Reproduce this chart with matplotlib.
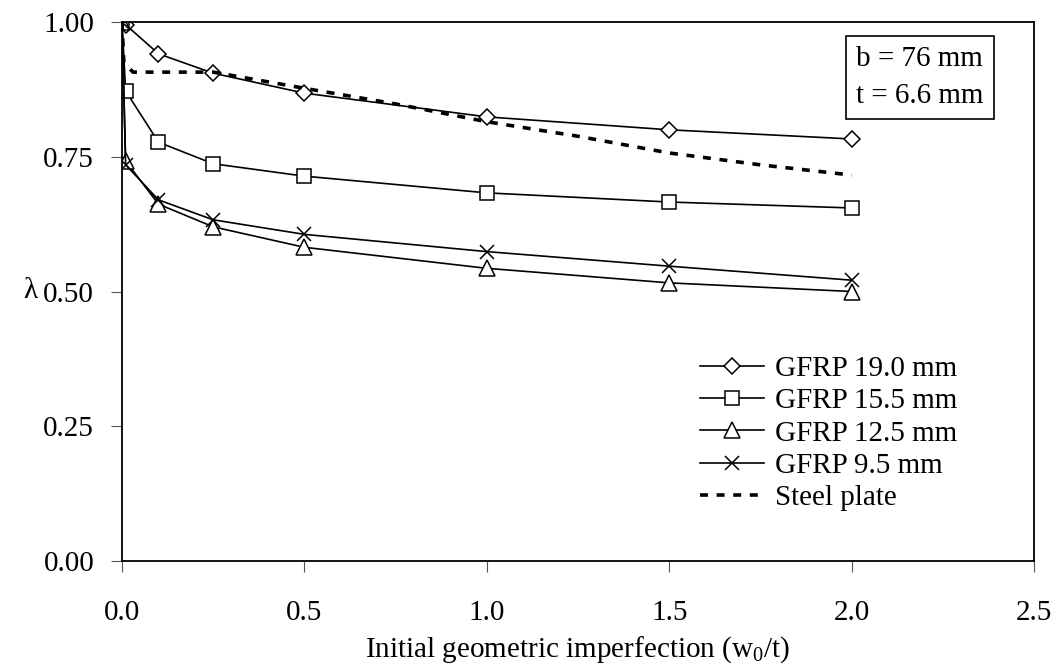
import numpy as np
import matplotlib
matplotlib.use("Agg")
import matplotlib.pyplot as plt

# ---------------------------------------------------------------
# data
x_gfrp = [0.0, 0.01, 0.1, 0.25, 0.5, 1.0, 1.5, 2.0]
lam_190 = [1.0, 0.995, 0.941, 0.905, 0.868, 0.824, 0.800, 0.783]
lam_155 = [1.0, 0.872, 0.777, 0.737, 0.714, 0.683, 0.666, 0.655]
lam_125 = [1.0, 0.742, 0.662, 0.620, 0.582, 0.543, 0.516, 0.500]
lam_95 = [1.0, 0.735, 0.670, 0.633, 0.606, 0.574, 0.547, 0.521]

x_steel = [0.0, 0.005, 0.03, 0.1, 0.25, 0.5, 0.75, 1.0, 1.25, 1.5, 1.75, 2.0]
lam_steel = [1.0, 0.925, 0.907, 0.907, 0.907, 0.877, 0.848, 0.815, 0.788, 0.757, 0.735, 0.716]

labels = ["GFRP 19.0 mm", "GFRP 15.5 mm", "GFRP 12.5 mm", "GFRP 9.5 mm", "Steel plate"]
xticks = [0.0, 0.5, 1.0, 1.5, 2.0, 2.5]
yticks = [0.0, 0.25, 0.5, 0.75, 1.0]

# ---------------------------------------------------------------
plt.rcParams['font.family'] = ['Liberation Serif', 'DejaVu Serif']
plt.rcParams['mathtext.fontset'] = 'custom'
plt.rcParams['mathtext.rm'] = 'Liberation Serif'
plt.rcParams['mathtext.it'] = 'Liberation Serif:italic'

fs = 21

fig = plt.figure(figsize=(10.57, 6.69), dpi=100)
ax = fig.add_axes([122/1057, 1 - 561/669, 912/1057, 539/669])

lw = 1.2
mk = dict(color='black', lw=lw, mfc='white', mec='black', mew=1.1)
ax.plot(x_gfrp, lam_190, marker='D', ms=8.5, label=labels[0], **mk)
ax.plot(x_gfrp, lam_155, marker='s', ms=10, label=labels[1], **mk)
ax.plot(x_gfrp, lam_125, marker='^', ms=11, label=labels[2], **mk)
ax.plot(x_gfrp, lam_95, marker='x', ms=10, label=labels[3], **mk)
ax.plot(x_steel, lam_steel, color='black', lw=2.6, dashes=(2.2, 2.4),
        label=labels[4])

ax.set_xlim(0, 2.5)
ax.set_ylim(0, 1.0)
ax.set_xticks(xticks)
ax.set_yticks(yticks)
ax.set_xticklabels(["%.1f" % v for v in xticks])
ax.set_yticklabels(["%.2f" % v for v in yticks])
ax.tick_params(axis='both', direction='out', length=8, width=0.8,
               labelsize=fs, color='#555555')
ax.tick_params(axis='x', pad=20)
ax.tick_params(axis='y', pad=12)
for s in ax.spines.values():
    s.set_linewidth(1.3)

ax.set_xlabel("Initial geometric imperfection (w$_0$/t)", fontsize=fs, labelpad=6)
ax.set_ylabel("λ", fontsize=fs, rotation=0, va='center')
ax.yaxis.set_label_coords(-0.101, 0.5)

ax.legend(loc='upper left', bbox_to_anchor=(0.634, 0.381), frameon=False,
          fontsize=fs, handlelength=2.2, handletextpad=0.35,
          labelspacing=0.2, borderpad=0, borderaxespad=0)

ax.text(0.805, 0.955, "b = 76 mm\nt = 6.6 mm", transform=ax.transAxes,
        fontsize=fs, ha='left', va='top', linespacing=1.55,
        bbox=dict(boxstyle='square,pad=0.35', fc='white', ec='black', lw=1.2))

fig.savefig("out.png", dpi=100)
